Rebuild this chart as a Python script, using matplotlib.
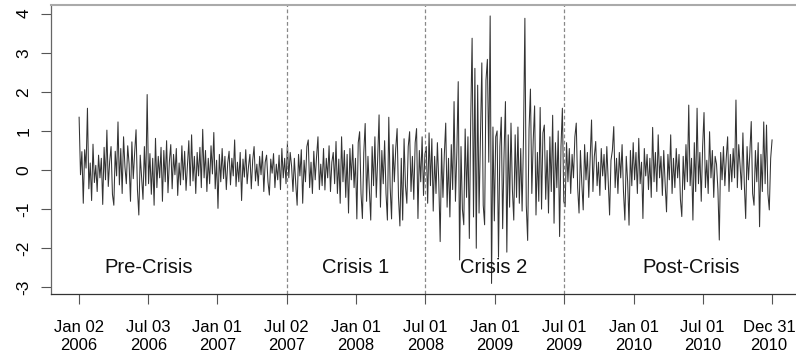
import pandas as pd
import matplotlib.pyplot as plt
import matplotlib.dates as mdates
import matplotlib.transforms as mtransforms

plt.rcParams['font.family'] = ['Liberation Sans', 'DejaVu Sans']
plt.rcParams['axes.unicode_minus'] = False

# daily returns by period
pre_crisis = [
    1.35, -0.12, 0.47, -0.85, 0.52, 0.05, 1.58, -0.48, 0.18, -0.78,
    0.66, -0.32, 0.12, -0.55, 0.38, -0.20, 0.30, -0.88, 0.58, -0.25,
    1.02, -0.42, 0.22, 0.60, -0.62, -0.90, 0.48, -0.15, 1.23, -0.38,
    0.55, -0.60, 0.85, 0.08, -0.35, 0.62, 0.15, -0.80, 0.72, -0.22,
    0.45, 1.03, -0.50, -1.15, 0.38, -0.18, -0.75, 0.60, -0.40, 1.93,
    -0.35, 0.42, -0.62, 0.30, -0.90, 0.81, -0.45, 0.35, -0.20, 0.58,
    -0.80, 0.50, -0.30, 0.75, -0.58, 0.22, 0.65, -0.48, 0.40, -0.12,
    0.55, -0.65, 0.18, -0.38, 0.62, -0.25, 0.48, -0.52, 0.10, 0.75,
    -0.40, 0.90, -0.28, 0.35, -0.60, 0.45, -0.15, 0.58, -0.45, 1.04,
    -0.20, 0.50, -0.55, 0.30, -0.35, 0.62, -0.10, 0.96, -0.48, 0.25,
    -0.98, 0.40, -0.30, 0.55, -0.22, 0.35, -0.50, 0.18, 0.48, -0.38,
    0.30, -0.15, 0.77, -0.42, 0.20, -0.30, 0.45, -0.78, 0.28, -0.18,
    0.52, -0.35, 0.10, 0.40, -0.48, 0.25, 0.60, -0.28, 0.15, -0.40,
    0.35, -0.12, 0.48, -0.55, 0.20, 0.38, -0.30, -0.64, 0.28, -0.08,
    0.42, -0.45, 0.15, -0.25, 0.38, -0.50, 0.55, -0.20, 0.30, -0.35,
]
crisis_1 = [
    0.68, -0.20, 0.45, 0.10, -0.55, 0.30, -0.35, -0.90, 0.40, -0.15,
    0.52, -0.85, 0.25, -0.30, 0.60, 0.77, -0.45, 0.20, -0.60, 0.48,
    -0.25, 0.35, 0.85, -0.50, 0.15, -0.40, 0.55, -0.51, 0.30, -0.20,
    0.62, -0.55, 0.20, 0.45, -0.35, 0.73, -0.60, 0.28, -0.85, 0.85,
    -0.30, 0.50, -0.70, 0.40, -1.10, 0.55, -0.25, 0.65, -0.45, 0.30,
    -1.25, 0.70, 0.98, -0.60, -1.24, 0.45, 1.19, -0.80, 0.35, -0.50,
    -1.28, 0.60, -0.40, 0.85, -0.70, 0.30, 1.41, -0.95, 0.50, -0.35,
    0.75, -0.60, -1.28, 1.35, -0.45, -1.25, 0.65, -0.30, 0.55, 1.06,
    -0.70, -1.43, 0.30, -1.28, 0.80, -0.40, -0.85, 0.60, 0.98, -0.55,
    0.35, -0.75, 0.70, 1.06, -1.24, 0.50, -0.30, 0.85, -0.65, 0.40,
]
crisis_2 = [
    0.60, -0.85, 0.95, -0.40, 0.80, -1.05, 0.35, -0.60, 0.70, -0.30,
    -1.83, 0.55, -0.70, 0.40, 1.20, -0.95, 0.30, -1.20, 0.65, -0.50,
    1.75, -0.80, 0.45, 2.26, -2.30, 0.60, -1.00, -1.40, 1.05, -0.70,
    0.85, -1.75, 1.30, 3.37, -1.20, 2.60, -2.00, 2.17, -1.10, 0.75,
    2.74, -0.90, -1.40, 2.30, 2.83, 0.20, 3.94, -2.90, 1.10, -1.30,
    0.85, 1.00, -2.23, 0.60, 1.35, -1.50, 0.40, 1.75, -2.10, 0.90,
    -0.95, 1.20, -0.50, -1.28, 0.90, -0.70, 1.10, -0.85, 0.55, -1.05,
    0.80, 3.88, -0.90, -1.80, 1.05, 2.07, -0.60, 0.75, 1.64, -1.15,
    0.45, -0.80, 1.60, -1.00, 0.95, 1.15, -0.75, 0.50, -1.10, 0.85,
    -0.55, 1.40, -1.36, 0.70, -0.45, 1.00, -1.70, 0.60, 1.58, -0.80,
]
post_crisis = [
    -0.94, 0.70, -0.30, 0.55, -0.60, 0.40, -0.20, 0.85, 1.20, -0.45,
    -1.10, 0.50, -0.35, -1.02, 0.65, -0.25, 0.45, -0.70, 0.30, 1.28,
    -0.55, 0.35, 0.73, -0.40, 0.20, -0.65, 0.55, -0.15, 0.40, -0.50,
    0.60, -0.30, -1.15, 0.25, 0.50, 1.11, -0.45, 0.30, -0.60, 0.45,
    -0.20, 0.65, -0.55, -1.28, 0.35, -0.30, -1.41, 0.50, -0.40, 0.70,
    -0.25, 0.45, -0.60, 0.81, -0.35, 0.20, -1.24, 0.55, -0.15, 0.40,
    -0.50, 0.30, -0.70, 1.09, -0.30, 0.45, -0.55, 0.90, -0.20, 0.35,
    -0.65, 0.50, -0.35, -1.07, 0.40, -0.25, 0.90, -0.60, 0.30, -0.45,
    0.55, -0.20, 0.40, -0.75, -1.19, 0.35, -0.50, 0.65, -0.30, 1.66,
    -0.40, 0.30, -1.28, 0.70, -0.55, 1.58, -0.35, 0.45, -0.80, 0.60,
    1.47, -0.45, 0.25, -0.60, 0.98, -0.20, 0.50, -0.70, 0.35, 0.15,
    -0.50, -1.79, 0.45, -0.25, 0.60, -0.40, 0.30, 0.85, -0.55, 0.40,
    -0.30, 0.55, -0.20, 1.79, -0.45, 0.65, 0.10, -0.50, 0.95, -0.35,
    -1.24, 0.60, -0.25, 0.45, 1.24, -0.60, -0.90, 0.50, -0.30, 0.70,
    -1.45, 0.40, -0.55, 1.23, -0.35, 1.15, -0.60, -1.02, 0.30, 0.77,
]

tick_dates = ['2006-01-02', '2006-07-03', '2007-01-01', '2007-07-02', '2008-01-01', '2008-07-01',
              '2009-01-01', '2009-07-01', '2010-01-01', '2010-07-01', '2010-12-31']
tick_labels = ['Jan 02\n2006', 'Jul 03\n2006', 'Jan 01\n2007', 'Jul 02\n2007', 'Jan 01\n2008', 'Jul 01\n2008',
               'Jan 01\n2009', 'Jul 01\n2009', 'Jan 01\n2010', 'Jul 01\n2010', 'Dec 31\n2010']
breaks = ['2007-07-02', '2008-07-01', '2009-07-01']
period_names = ['Pre-Crisis', 'Crisis 1', 'Crisis 2', 'Post-Crisis']
period_label_dates = ['2006-07-03', '2008-01-01', '2008-12-27', '2010-06-01']

values = pre_crisis + crisis_1 + crisis_2 + post_crisis
dates = pd.date_range('2006-01-02', '2010-12-31', periods=len(values))

fig = plt.figure(figsize=(7.96, 3.56), dpi=100)
ax = fig.add_axes([51/796, 62/356, 745/796, 289/356])
ax.plot(dates, values, color='#333333', lw=0.75)

for d in breaks:
    ax.axvline(mdates.date2num(pd.Timestamp(d)), color='#888888', lw=0.9, ls=(0, (3, 2)))

for name, d in zip(period_names, period_label_dates):
    ax.text(mdates.date2num(pd.Timestamp(d)), -2.48, name, ha='center', va='center', fontsize=14.5, color='#111111')

start = pd.Timestamp('2006-01-02')
end = pd.Timestamp('2010-12-31')
ax.set_xlim(mdates.date2num(start - pd.Timedelta(days=74)), mdates.date2num(end + pd.Timedelta(days=63)))
ax.set_ylim(-3.17, 4.22)
ax.set_yticks(range(-3, 5))
ax.set_xticks([mdates.date2num(pd.Timestamp(t)) for t in tick_dates])
ax.set_xticklabels(tick_labels, linespacing=1.25)

ax.tick_params(axis='y', length=7, width=0.8, color='#555555', pad=7, labelsize=12.5, labelrotation=90)
ax.tick_params(axis='x', length=7, width=0.8, color='#555555', pad=12, labelsize=12)
for lbl in ax.get_yticklabels():
    lbl.set_va('center')

# nudge the last date label so it stays inside the figure
last = ax.get_xticklabels()[-1]
last.set_transform(last.get_transform() + mtransforms.ScaledTranslation(-3/100, 0, fig.dpi_scale_trans))

ax.spines['right'].set_visible(False)
ax.spines['top'].set_color('#aaaaaa')
ax.spines['top'].set_linewidth(1.5)
ax.spines['left'].set_color('#666666')
ax.spines['left'].set_linewidth(0.9)
ax.spines['bottom'].set_color('#333333')
ax.spines['bottom'].set_linewidth(0.9)

fig.savefig('out.png', dpi=100)
